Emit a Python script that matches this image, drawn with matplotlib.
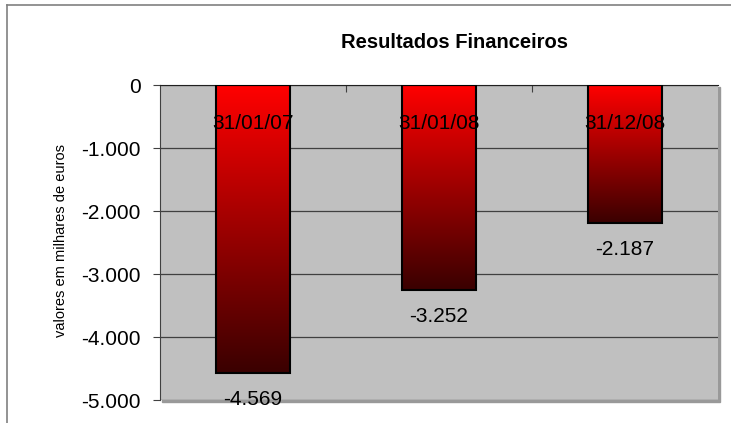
import numpy as np
import matplotlib.pyplot as plt
import matplotlib
from matplotlib.colors import LinearSegmentedColormap
from matplotlib.ticker import FuncFormatter

plt.rcParams['font.family'] = ['Liberation Sans Narrow', 'Liberation Sans', 'DejaVu Sans']

# dados
datas = ['31/01/07', '31/01/08', '31/12/08']
resultados = [-4569, -3252, -2187]
y_ticks = [0, -1000, -2000, -3000, -4000, -5000]


def fmt_milhares(v, pos=None):
    v = int(round(v))
    if v == 0:
        return '0'
    s = '{:,}'.format(abs(v)).replace(',', '.')
    return ('-' if v < 0 else '') + s


fig = plt.figure(figsize=(7.31, 4.23), dpi=100)
fig.patch.set_facecolor('white')

# moldura do grafico (so esquerda e topo visiveis)
fig.add_artist(plt.Line2D([7 / 731, 7 / 731], [0, 1 - 5 / 423], transform=fig.transFigure,
                          color='#808080', lw=1.2))
fig.add_artist(plt.Line2D([7 / 731, 1], [1 - 5 / 423, 1 - 5 / 423], transform=fig.transFigure,
                          color='#808080', lw=1.2))

ax = fig.add_axes([160 / 731, 1 - 400 / 423, 558 / 731, 315 / 423])
ax.set_facecolor('#C0C0C0')

# sombra da area do grafico
shadow = matplotlib.patches.Rectangle((162 / 731, 1 - 402 / 423), 558 / 731, 315 / 423,
                                      transform=fig.transFigure, color='#999999', zorder=0)
fig.add_artist(shadow)
ax.set_zorder(1)

x = np.arange(len(datas))
bars = ax.bar(x, resultados, width=0.4, color='none', edgecolor='black', lw=1.5, zorder=3)

cmap = LinearSegmentedColormap.from_list('vermelho', ['#3a0000', '#ff0000'])
grad = np.linspace(0, 1, 256).reshape(-1, 1)
for b in bars:
    x0 = b.get_x()
    w = b.get_width()
    h = b.get_height()
    im = ax.imshow(grad, cmap=cmap, aspect='auto', origin='lower',
                   extent=[x0, x0 + w, h, 0], zorder=2)
    im.set_clip_path(b)

ax.set_xlim(-0.5, len(datas) - 0.5)
ax.set_ylim(-5000, 0)
ax.set_yticks(y_ticks)
ax.yaxis.set_major_formatter(FuncFormatter(fmt_milhares))
ax.tick_params(axis='y', labelsize=15, length=5, direction='out', color='#404040', pad=9)
ax.grid(axis='y', color='#404040', lw=0.9, zorder=1)
ax.set_axisbelow(True)

ax.set_xticks([0.5, 1.5])
ax.set_xticklabels([])
ax.xaxis.set_ticks_position('top')
ax.tick_params(axis='x', direction='in', length=5, color='#404040')

for s in ['right', 'bottom']:
    ax.spines[s].set_visible(False)
ax.spines['top'].set_color('#202020')
ax.spines['left'].set_color('#404040')

for xi, v, d in zip(x, resultados, datas):
    ax.text(xi, -610, d, ha='center', va='center', fontsize=15, zorder=4)
    ax.text(xi, v - 270, fmt_milhares(v), ha='center', va='top', fontsize=15, zorder=4)

fig.text(455 / 731, 1 - 43 / 423, 'Resultados Financeiros', ha='center', va='center',
         fontsize=14.5, fontweight='bold')
fig.text(61 / 731, 1 - 240 / 423, 'valores em milhares de euros', ha='center', va='center',
         rotation=90, fontsize=10.5)

fig.savefig('out.png', dpi=100)
